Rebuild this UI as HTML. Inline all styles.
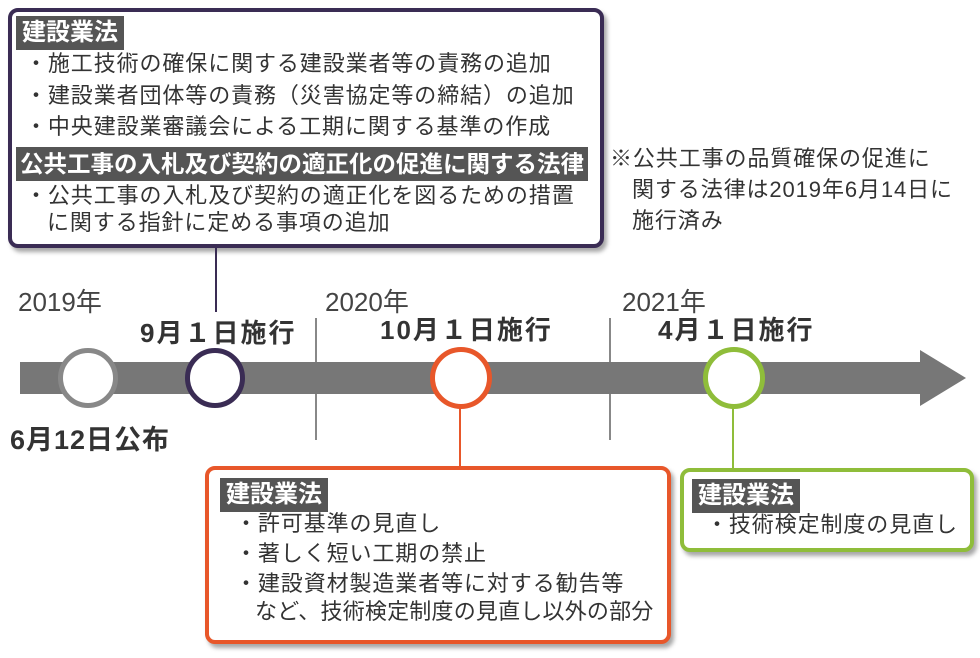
<!DOCTYPE html>
<html><head><meta charset="utf-8"><style>
body{margin:0;width:980px;height:658px;background:#fff;position:relative;overflow:hidden;font-family:"Liberation Sans","Noto Sans CJK JP",sans-serif;color:#333}
.a{position:absolute;white-space:nowrap}
.box{position:absolute;background:#fff;border-radius:10px;box-shadow:3px 4px 4px rgba(0,0,0,.35)}
.h{position:absolute;background:#555;color:#fff;font-weight:bold;font-size:24px;line-height:34px;padding:0 6px;white-space:nowrap}
.t{position:absolute;font-size:22px;letter-spacing:0.9px;line-height:30px;white-space:nowrap;color:#333}
.b{font-weight:bold;font-size:26px;color:#333;letter-spacing:2px}
.y{font-size:26px;color:#444}
.c{position:absolute;border-radius:50%;background:#fff;box-sizing:border-box;border:5px solid}
.v{position:absolute;width:2px}
</style></head><body>
<div class="box" style="left:8px;top:8px;width:588px;height:232px;border:4px solid #3a2c54"></div>
<div class="h" style="left:16px;top:16px">建設業法</div>
<div class="t" style="left:25px;top:49px">・施工技術の確保に関する建設業者等の責務の追加</div>
<div class="t" style="left:25px;top:81px">・建設業者団体等の責務（災害協定等の締結）の追加</div>
<div class="t" style="left:25px;top:112px">・中央建設業審議会による工期に関する基準の作成</div>
<div class="h" style="left:16px;top:147px;padding:0 4px;font-size:23.5px">公共工事の入札及び契約の適正化の促進に関する法律</div>
<div class="t" style="left:25px;top:181px">・公共工事の入札及び契約の適正化を図るための措置</div>
<div class="t" style="left:47px;top:208px">に関する指針に定める事項の追加</div>
<div class="t" style="left:610px;top:144px">※公共工事の品質確保の促進に</div>
<div class="t" style="left:632px;top:175px">関する法律は2019年6月14日に</div>
<div class="t" style="left:632px;top:206px">施行済み</div>

<div class="v" style="left:215px;top:248px;height:64px;background:#3a2c54"></div>
<div class="v" style="left:315px;top:318px;height:122px;background:#888"></div>
<div class="v" style="left:609px;top:318px;height:122px;background:#888"></div>
<div class="a" style="left:20px;top:362px;width:905px;height:32px;background:#777"></div>
<svg class="a" style="left:920px;top:350px" width="50" height="58"><polygon points="0,0 46,28 0,56" fill="#777"/></svg>
<div class="c" style="left:58px;top:348px;width:60px;height:60px;border-color:#888"></div>
<div class="c" style="left:185px;top:348px;width:60px;height:60px;border-color:#3a2c54"></div>
<div class="c" style="left:430px;top:347px;width:62px;height:62px;border-color:#e8572a"></div>
<div class="c" style="left:703px;top:347px;width:62px;height:62px;border-color:#8fbd3a"></div>
<div class="v" style="left:459px;top:408px;height:59px;background:#e8572a"></div>
<div class="v" style="left:732px;top:408px;height:61px;background:#8fbd3a"></div>

<div class="a y" style="left:18px;top:282px">2019年</div>
<div class="a y" style="left:325px;top:282px">2020年</div>
<div class="a y" style="left:622px;top:282px">2021年</div>
<div class="a b" style="left:140px;top:313px">9月１日施行</div>
<div class="a b" style="left:380px;top:310px">10月１日施行</div>
<div class="a b" style="left:658px;top:310px">4月１日施行</div>
<div class="a b" style="left:10px;top:418px;font-size:27px;letter-spacing:1px">6月12日公布</div>

<div class="box" style="left:205px;top:466px;width:458px;height:170px;border:4px solid #e8572a"></div>
<div class="h" style="left:220px;top:478px">建設業法</div>
<div class="t" style="left:235px;top:509px">・許可基準の見直し</div>
<div class="t" style="left:235px;top:539px">・著しく短い工期の禁止</div>
<div class="t" style="left:235px;top:569px">・建設資材製造業者等に対する勧告等</div>
<div class="t" style="left:255px;top:597px;letter-spacing:0.2px">など、技術検定制度の見直し以外の部分</div>

<div class="box" style="left:680px;top:468px;width:286px;height:76px;border:4px solid #8fbd3a"></div>
<div class="h" style="left:692px;top:479px">建設業法</div>
<div class="t" style="left:706px;top:510px">・技術検定制度の見直し</div>
</body></html>
